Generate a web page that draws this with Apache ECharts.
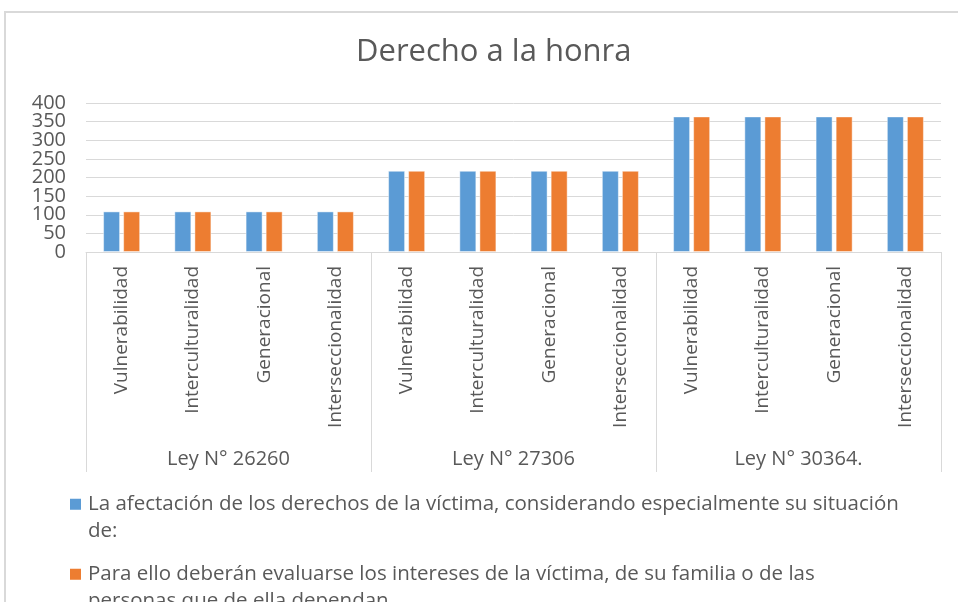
<!DOCTYPE html>
<html>
<head>
<meta charset="utf-8">
<script src="https://cdn.jsdelivr.net/npm/echarts@6/dist/echarts.min.js"></script>
<style>
  html, body { margin: 0; padding: 0; background: #fff; }
  #chart { width: 958px; height: 602px; }
</style>
</head>
<body>
<div id="chart"></div>
<script>
// datos
var leyes = ['Ley N° 26260', 'Ley N° 27306', 'Ley N° 30364.'];
var enfoques = ['Vulnerabilidad', 'Interculturalidad', 'Generacional', 'Interseccionalidad'];
var yTicks = [0, 50, 100, 150, 200, 250, 300, 350, 400];

var serieNombres = [
    'La afectación de los derechos de la víctima, considerando especialmente su situación de:',
    'Para ello deberán evaluarse los intereses de la víctima, de su familia o de las personas que de ella dependan'
];
// texto de la leyenda tal como se corta en el original
var leyendaTexto = [
    'La afectación de los derechos de la víctima, considerando especialmente su situación\nde:',
    'Para ello deberán evaluarse los intereses de la víctima, de su familia o de las\npersonas que de ella dependan'
];
var afectacion = [109, 109, 109, 109, 218, 218, 218, 218, 364, 364, 364, 364];
var intereses  = [109, 109, 109, 109, 218, 218, 218, 218, 364, 364, 364, 364];

var colores = ['#5B9BD5', '#ED7D31'];
var gris = '#595959';
var lineaGris = '#D9D9D9';
var fuente = "'Open Sans', 'Noto Sans', sans-serif";

var categorias = [];
leyes.forEach(function () {
    enfoques.forEach(function (e) { categorias.push(e); });
});

// echarts oculta etiquetas muy juntas, asi que se reparten en dos ejes superpuestos
function ejeY(resto, conRejilla) {
    return {
        type: 'value',
        min: yTicks[0],
        max: yTicks[yTicks.length - 1],
        interval: 50,
        position: 'left',
        axisLine: { show: false },
        axisTick: { show: false },
        splitLine: { show: conRejilla, lineStyle: { color: lineaGris, width: 1 } },
        axisLabel: {
            fontSize: 20,
            color: gris,
            margin: 20,
            fontFamily: fuente,
            showMinLabel: conRejilla ? true : false,
            showMaxLabel: conRejilla ? true : false,
            formatter: function (v) {
                return (v % 100 === resto) ? String(v) : '';
            }
        }
    };
}

var chart = echarts.init(document.getElementById('chart'));

var option = {
    backgroundColor: '#fff',
    textStyle: { fontFamily: fuente },
    title: {
        text: 'Derecho a la honra',
        left: 351,
        top: 32,
        textStyle: { fontFamily: fuente, fontSize: 31, fontWeight: 'normal', color: gris }
    },
    graphic: [{
        type: 'rect',
        shape: { x: 5, y: 12, width: 1000, height: 700 },
        style: { fill: 'none', stroke: lineaGris, lineWidth: 2 },
        silent: true
    }],
    grid: {
        left: 86,
        right: 17,
        top: 103,
        bottom: 350,
        outerBoundsMode: 'none'
    },
    legend: {
        orient: 'vertical',
        left: 70,
        top: 491,
        height: 400,
        padding: 0,
        itemWidth: 11,
        itemHeight: 37.5,
        itemGap: 17,
        icon: 'path://M0,0H11V11H0Z M0,37.5L0.01,37.5',
        itemStyle: { borderWidth: 0 },
        textStyle: { fontFamily: fuente, fontSize: 20.5, color: gris, lineHeight: 26.5, padding: [0, 0, 0, 2] },
        formatter: function (name) {
            return leyendaTexto[serieNombres.indexOf(name)];
        },
        data: serieNombres
    },
    xAxis: [{
        type: 'category',
        data: categorias,
        axisLine: { show: true, lineStyle: { color: lineaGris, width: 1 } },
        axisTick: { show: false },
        axisLabel: {
            interval: 0,
            rotate: 90,
            margin: 14,
            fontSize: 19,
            color: gris,
            fontFamily: fuente
        }
    }, {
        type: 'category',
        data: leyes,
        position: 'bottom',
        offset: 0,
        axisLine: { show: false },
        axisTick: { show: true, length: 220, lineStyle: { color: lineaGris, width: 1 } },
        axisLabel: {
            interval: 0,
            margin: 197,
            fontSize: 20,
            color: gris,
            fontFamily: fuente
        }
    }],
    yAxis: [ejeY(0, true), ejeY(50, false)],
    series: [{
        name: serieNombres[0],
        type: 'bar',
        data: afectacion,
        barWidth: 17,
        barGap: '18%',
        itemStyle: { color: colores[0], borderColor: 'rgba(255,255,255,0.45)', borderWidth: 1 }
    }, {
        name: serieNombres[1],
        type: 'bar',
        data: intereses,
        barWidth: 17,
        barGap: '18%',
        itemStyle: { color: colores[1], borderColor: 'rgba(255,255,255,0.45)', borderWidth: 1 }
    }]
};

chart.setOption(option);
</script>
</body>
</html>
